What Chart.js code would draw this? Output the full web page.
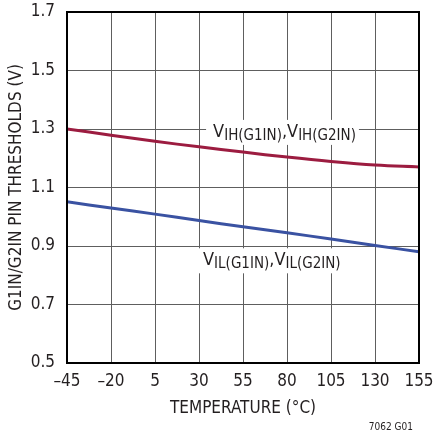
<!DOCTYPE html>
<html>
<head>
<meta charset="utf-8">
<script src="https://cdn.jsdelivr.net/npm/chart.js@4.4.1/dist/chart.umd.min.js"></script>
<style>
  html, body { margin: 0; padding: 0; background: #fff; }
  #wrap { width: 433px; height: 435px; position: relative; }
</style>
</head>
<body>
<div id="wrap"><canvas id="chart"></canvas></div>
<script>
// Temperature (°C) sample points and threshold curves (V)
const temps = [-45, -20, 5, 30, 55, 80, 105, 130, 155];
const vih = [1.300, 1.279, 1.258, 1.239, 1.221, 1.204, 1.189, 1.177, 1.170];
const vil = [1.051, 1.030, 1.009, 0.987, 0.966, 0.945, 0.924, 0.902, 0.880];

const FONT = "'Liberation Sans Narrow', 'DejaVu Sans Condensed', Roboto, sans-serif";

const toPoints = arr => arr.map((v, i) => ({ x: temps[i], y: v }));

/* in-plot labels with subscripts + frame + figure id */
const decorPlugin = {
    id: 'decor',
    beforeDatasetsDraw(chart) {
        const { ctx, scales: { x, y } } = chart;
        const labels = [
            { t: 38, v: 1.273, sub: 'IH' },
            { t: 32.3, v: 0.834, sub: 'IL' }
        ];
        labels.forEach(l => {
            const px = x.getPixelForValue(l.t);
            const py = y.getPixelForValue(l.v);
            const parts = [
                ['V', 18, 0], [l.sub + '(G1IN)', 15, 3], [',', 18, 0],
                ['V', 18, 0], [l.sub + '(G2IN)', 15, 3]
            ];
            ctx.save();
            let w = 0;
            parts.forEach(p => { ctx.font = `${p[1]}px ${FONT}`; w += ctx.measureText(p[0]).width; });
            ctx.fillStyle = '#fff';
            ctx.fillRect(px - 7, py - 17, w + 10, 25);
            ctx.fillStyle = '#231f20';
            ctx.textBaseline = 'alphabetic';
            let cx = px;
            parts.forEach(p => {
                ctx.font = `${p[1]}px ${FONT}`;
                ctx.fillText(p[0], cx, py + p[2]);
                cx += ctx.measureText(p[0]).width;
            });
            ctx.restore();
        });
    },
    afterDraw(chart) {
        const { ctx, chartArea: a } = chart;
        ctx.save();
        ctx.strokeStyle = '#000';
        ctx.lineWidth = 2;
        ctx.strokeRect(a.left, a.top, a.right - a.left, a.bottom - a.top);
        ctx.fillStyle = '#231f20';
        ctx.font = `10px ${FONT}`;
        ctx.textAlign = 'right';
        ctx.fillText('7062 G01', 413, 430);
        ctx.restore();
    }
};

new Chart(document.getElementById('chart'), {
    type: 'line',
    data: {
        datasets: [
            {
                label: 'VIH',
                data: toPoints(vih),
                borderColor: '#9c1c40',
                borderWidth: 3,
                pointRadius: 0,
                tension: 0.4
            },
            {
                label: 'VIL',
                data: toPoints(vil),
                borderColor: '#3a52a2',
                borderWidth: 3,
                pointRadius: 0,
                tension: 0.4
            }
        ]
    },
    options: {
        responsive: true,
        maintainAspectRatio: false,
        animation: false,
        layout: { padding: { top: 12, right: 14, left: 6, bottom: 16 } },
        scales: {
            x: {
                type: 'linear',
                min: -45,
                max: 155,
                border: { display: false },
                grid: { color: '#5e5e5e', lineWidth: 1, drawTicks: false },
                ticks: {
                    stepSize: 25,
                    padding: 8,
                    color: '#231f20',
                    font: { family: FONT, size: 17 },
                    maxRotation: 0,
                    callback: v => v < 0 ? '\u2013' + Math.abs(v) : String(v)
                },
                title: {
                    display: true,
                    text: 'TEMPERATURE (°C)',
                    color: '#231f20',
                    font: { family: FONT, size: 17 },
                    padding: { top: 4, bottom: 0 }
                },
                afterFit: s => { s.height = 56; s.paddingLeft = 0; s.paddingRight = 0; }
            },
            y: {
                min: 0.5,
                max: 1.7,
                border: { display: false },
                grid: { color: '#5e5e5e', lineWidth: 1, drawTicks: false },
                ticks: {
                    stepSize: 0.2,
                    padding: 12,
                    color: '#231f20',
                    font: { family: FONT, size: 17 },
                    callback: v => v.toFixed(1)
                },
                title: {
                    display: true,
                    text: 'G1IN/G2IN PIN THRESHOLDS (V)',
                    color: '#231f20',
                    font: { family: FONT, size: 17 },
                    padding: { top: 0, bottom: 2 }
                },
                afterFit: s => { s.width = 61; s.paddingTop = 0; s.paddingBottom = 0; }
            }
        },
        plugins: {
            legend: { display: false },
            tooltip: { enabled: false }
        }
    },
    plugins: [decorPlugin]
});
</script>
</body>
</html>
